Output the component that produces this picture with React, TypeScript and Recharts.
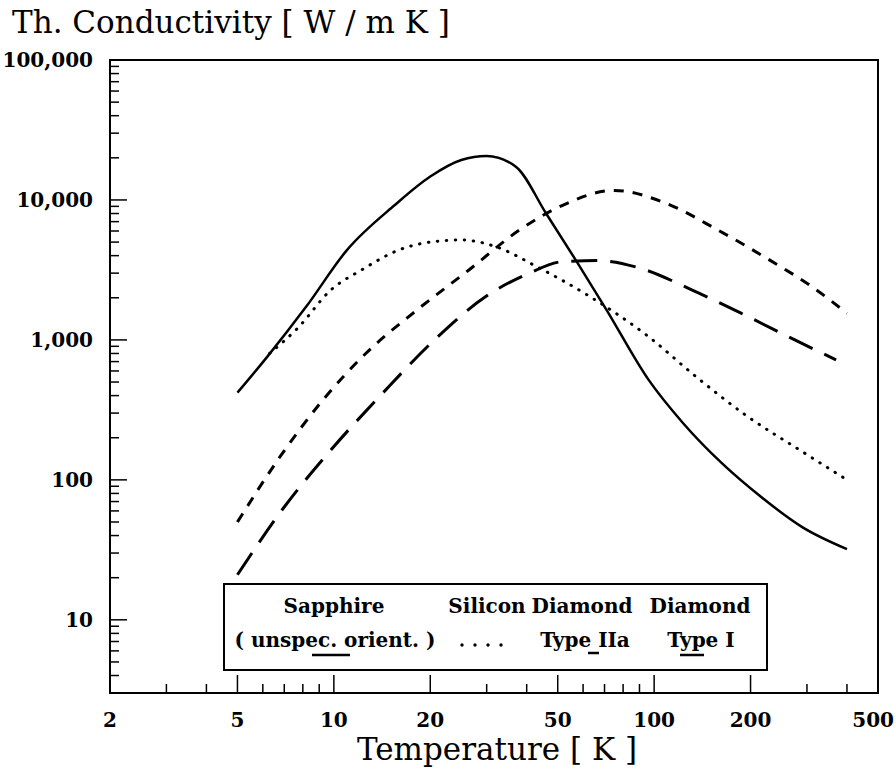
import { Line, LineChart, ReferenceArea, XAxis, YAxis } from "recharts";

// temperature [K] and conductivity [W/mK]
const sapphireT = [5, 6.2, 8.2, 11, 15.5, 20, 25, 30, 37, 46, 57, 71, 96, 123, 163, 215, 290, 400];
const sapphireK = [420, 760, 1730, 4400, 9200, 14700, 19300, 20600, 17300, 8000, 3700, 1640, 520, 255, 131, 76, 46, 32];

const siliconT = [6.3, 7.7, 9.8, 12.2, 16, 20.5, 25, 32, 43, 63, 96, 135, 196, 284, 400];
const siliconK = [800, 1210, 2280, 3160, 4400, 5040, 5180, 4640, 3340, 2040, 1056, 547, 283, 164, 100];

const diamond2aT = [5, 6.8, 9.25, 12.6, 18.2, 26.4, 38, 52, 75, 109, 158, 229, 311, 400];
const diamond2aK = [50, 147, 373, 803, 1640, 3160, 6100, 9200, 11700, 9460, 6100, 3730, 2400, 1550];

const diamond1T = [5, 7, 9.8, 14.2, 20.6, 29.8, 40.6, 52, 66.5, 90.6, 131, 196, 275, 370];
const diamond1K = [21, 64, 164, 416, 1000, 2040, 2990, 3630, 3690, 3250, 2280, 1470, 1000, 720];

const xTicks = [2, 3, 4, 5, 6, 7, 8, 9, 10, 20, 30, 40, 50, 60, 70, 80, 90, 100, 200, 300, 400, 500];
const xLabels = [2, 5, 10, 20, 50, 100, 200, 500];
const yTicks = [
  4, 5, 6, 7, 8, 9, 10, 20, 30, 40, 50, 60, 70, 80, 90, 100, 200, 300, 400, 500, 600, 700, 800, 900,
  1000, 2000, 3000, 4000, 5000, 6000, 7000, 8000, 9000, 10000, 20000, 30000, 40000, 50000, 60000,
  70000, 80000, 90000, 100000,
];
const yLabels = [10, 100, 1000, 10000, 100000];

const zip = (ts: number[], ks: number[]) => ts.map((t, i) => ({ t, k: ks[i] }));

const FONT = "'DejaVu Serif', serif";
const fmt = (v: number) => String(v).replace(/\B(?=(\d{3})+(?!\d))/g, ",");

function YTick({ x, y, payload }: any) {
  const v = payload.value;
  const major = yLabels.includes(v);
  return (
    <g>
      {v !== 100000 && (
        <line x1={x} x2={x + (major ? 17 : 9)} y1={y} y2={y} stroke="#000" strokeWidth={1.5} />
      )}
      {major && (
        <text x={x - 17} y={y} dy={7} textAnchor="end" fontFamily={FONT} fontWeight="bold" fontSize={20} fill="#000">
          {fmt(v)}
        </text>
      )}
    </g>
  );
}

function XTick({ x, y, payload }: any) {
  const v = payload.value;
  const major = xLabels.includes(v);
  // the last label sits flush with the page edge
  const last = v === 500;
  return (
    <g>
      {v !== 2 && v !== 500 && (
        <line x1={x} x2={x} y1={y} y2={y - (major ? 18 : 9)} stroke="#000" strokeWidth={1.5} />
      )}
      {major && (
        <text
          x={last ? x + 16 : x}
          y={y + 34}
          textAnchor={last ? "end" : "middle"}
          fontFamily={FONT}
          fontWeight="bold"
          fontSize={20}
          fill="#000"
        >
          {v}
        </text>
      )}
    </g>
  );
}

function LegendBox() {
  const txt = { fontFamily: FONT, fontWeight: "bold" as const, fontSize: 20, fill: "#000", textAnchor: "middle" as const };
  return (
    <g>
      <rect x={224} y={584} width={543} height={86} fill="#fff" stroke="#000" strokeWidth={2} />
      <text x={334} y={613} {...txt}>Sapphire</text>
      <text x={487} y={613} {...txt}>Silicon</text>
      <text x={582} y={613} {...txt}>Diamond</text>
      <text x={700} y={613} {...txt}>Diamond</text>
      <text x={335} y={647} {...txt}>( unspec. orient. )</text>
      <text x={585} y={647} {...txt}>Type IIa</text>
      <text x={701} y={647} {...txt}>Type I</text>
      <line x1={312} x2={350} y1={655} y2={655} stroke="#000" strokeWidth={2.5} />
      {[462, 475, 488, 501].map((cx) => (
        <circle key={cx} cx={cx} cy={645} r={1.7} fill="#000" />
      ))}
      <line x1={588} x2={599} y1={653} y2={653} stroke="#000" strokeWidth={2.5} />
      <line x1={680} x2={704} y1={655} y2={655} stroke="#000" strokeWidth={2.5} />
    </g>
  );
}

export default function App() {
  return (
    <div style={{ position: "absolute", left: 0, top: 0, width: 896, height: 780, background: "#fff" }}>
      <LineChart
        width={896}
        height={780}
        margin={{ top: 60, right: 18, bottom: 47, left: 10 }}
        style={{ position: "absolute", left: 0, top: 0 }}
      >
        <XAxis
          dataKey="t"
          type="number"
          scale="log"
          domain={[2, 500]}
          ticks={xTicks}
          interval={0}
          height={40}
          tickSize={0}
          tickMargin={0}
          axisLine={false}
          tickLine={false}
          tick={<XTick />}
          allowDataOverflow
        />
        <YAxis
          dataKey="k"
          type="number"
          scale="log"
          domain={[3, 100000]}
          ticks={yTicks}
          interval={0}
          width={100}
          tickSize={0}
          tickMargin={0}
          axisLine={false}
          tickLine={false}
          tick={<YTick />}
          allowDataOverflow
        />
        <ReferenceArea x1={2} x2={500} y1={3} y2={100000} fill="none" stroke="#000" strokeWidth={2} />
        <Line data={zip(sapphireT, sapphireK)} dataKey="k" type="monotone" stroke="#000" strokeWidth={2.5} dot={false} isAnimationActive={false} />
        <Line data={zip(siliconT, siliconK)} dataKey="k" type="monotone" stroke="#000" strokeWidth={3} strokeDasharray="0.5 8.5" strokeLinecap="round" dot={false} isAnimationActive={false} />
        <Line data={zip(diamond2aT, diamond2aK)} dataKey="k" type="monotone" stroke="#000" strokeWidth={3} strokeDasharray="10 9" dot={false} isAnimationActive={false} />
        <Line data={zip(diamond1T, diamond1K)} dataKey="k" type="monotone" stroke="#000" strokeWidth={3} strokeDasharray="26 13" dot={false} isAnimationActive={false} />
      </LineChart>
      <svg width={896} height={780} style={{ position: "absolute", left: 0, top: 0, pointerEvents: "none" }}>
        <text x={12} y={33} fontFamily={FONT} fontSize={31} fill="#000">
          Th. Conductivity [ W / m K ]
        </text>
        <text x={497} y={760} textAnchor="middle" fontFamily={FONT} fontSize={31} fill="#000">
          Temperature [ K ]
        </text>
        <LegendBox />
      </svg>
    </div>
  );
}
